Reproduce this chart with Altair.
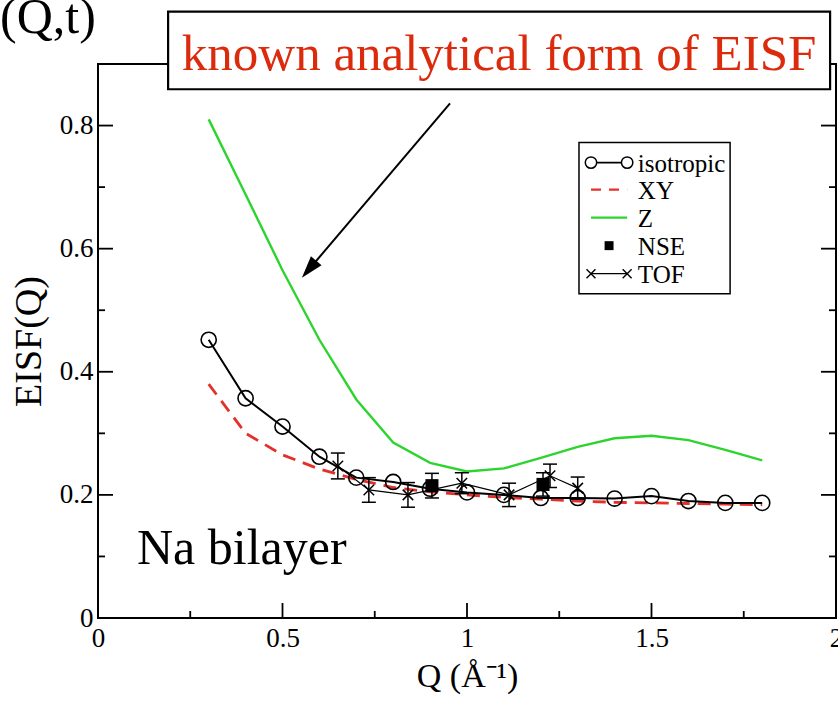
import altair as alt
import pandas as pd

# ---- data ---------------------------------------------------------------
q_iso = [0.3, 0.4, 0.5, 0.6, 0.7, 0.8, 0.9, 1.0, 1.1, 1.2, 1.3, 1.4, 1.5, 1.6, 1.7, 1.8]
eisf_iso = [0.452, 0.357, 0.311, 0.262, 0.228, 0.221, 0.210, 0.204,
            0.200, 0.195, 0.195, 0.194, 0.198, 0.190, 0.187, 0.187]
eisf_xy = [0.380, 0.300, 0.265, 0.242, 0.225, 0.212, 0.205, 0.200,
           0.196, 0.193, 0.190, 0.188, 0.187, 0.186, 0.185, 0.184]
eisf_z = [0.810, 0.688, 0.565, 0.452, 0.355, 0.285, 0.252, 0.238,
          0.243, 0.260, 0.278, 0.292, 0.296, 0.289, 0.273, 0.256]

q_tof = [0.65, 0.734, 0.84, 0.986, 1.114, 1.225, 1.30]
eisf_tof = [0.247, 0.208, 0.200, 0.219, 0.200, 0.231, 0.211]
err_tof = [0.021, 0.020, 0.020, 0.017, 0.019, 0.019, 0.018]

q_nse = [0.905, 1.206]
eisf_nse = [0.215, 0.217]
err_nse = [0.020, 0.019]

legend_labels = ["isotropic", "XY", "Z", "NSE", "TOF"]

x_major = [0, 0.5, 1, 1.5, 2]
x_minor = [0.25, 0.75, 1.25, 1.75]
y_major = [0, 0.2, 0.4, 0.6, 0.8]
y_minor = [0.1, 0.3, 0.5, 0.7]

# ---- layout constants (in axis units) ------------------------------------
W, H = 738, 554
SERIF = "Liberation Serif"
GREEN = "#2ed42e"
RED = "#e4302a"
NOTE_RED = "#dc2a0c"
MAJOR_LEN, MINOR_LEN = 15, 7

LEG_BOX = dict(q=1.3035, q2=1.713, v=0.5268, v2=0.7724)
LEG_ROWS = [0.7398, 0.6959, 0.6504, 0.6049, 0.5593]
LEG_SYM = (1.336, 1.434)
LEG_TEXT_Q = 1.463

NOTE_BOX = dict(q=0.19, q2=1.984, v=0.859, v2=0.985)
NOTE_TEXT = dict(q=1.087, v=0.891, label="known analytical form of EISF")
ARROW = dict(q=0.954, v=0.836, q2=0.572, v2=0.5665)
CORNER_TEXT = dict(q=-0.2656, v=0.951, label="(Q,t)")
PANEL_TEXT = dict(q=0.1057, v=0.0878, label="Na bilayer")

# ---- encodings ----------------------------------------------------------
xscale = alt.Scale(domain=[0, 2], nice=False, zero=False)
yscale = alt.Scale(domain=[0, 0.9], nice=False, zero=False)
xaxis = alt.Axis(values=x_major, format="~g", ticks=False, domain=False, grid=False,
                 labelFlush=False, labelPadding=7, titlePadding=8)
yaxis = alt.Axis(values=y_major, format="~g", ticks=False, domain=False, grid=False,
                 labelFlush=False, labelPadding=5, titlePadding=11)


def X(field="q"):
    return alt.X(f"{field}:Q", scale=xscale, axis=xaxis, title="Q (Å⁻¹)")


def Y(field="v"):
    return alt.Y(f"{field}:Q", scale=yscale, axis=yaxis, title="EISF(Q)")


# ---- frames -------------------------------------------------------------
curves = pd.DataFrame({"q": q_iso, "iso": eisf_iso, "xy": eisf_xy, "z": eisf_z})
tof = pd.DataFrame({"q": q_tof, "v": eisf_tof,
                    "lo": [v - e for v, e in zip(eisf_tof, err_tof)],
                    "hi": [v + e for v, e in zip(eisf_tof, err_tof)]})
nse = pd.DataFrame({"q": q_nse, "v": eisf_nse,
                    "lo": [v - e for v, e in zip(eisf_nse, err_nse)],
                    "hi": [v + e for v, e in zip(eisf_nse, err_nse)]})

layers = []

# model curves
layers.append(alt.Chart(curves).mark_line(color=GREEN, strokeWidth=2.4)
              .encode(x=X(), y=Y("z")))
layers.append(alt.Chart(curves).mark_line(color=RED, strokeWidth=2.8, strokeDash=[13, 8])
              .encode(x=X(), y=Y("xy")))
layers.append(alt.Chart(curves).mark_line(color="black", strokeWidth=2)
              .encode(x=X(), y=Y("iso")))
layers.append(alt.Chart(curves).mark_point(shape="circle", size=230, filled=False,
                                           color="black", strokeWidth=1.6, opacity=1)
              .encode(x=X(), y=Y("iso")))

# TOF data: line, error bars, crosses
layers.append(alt.Chart(tof).mark_line(color="black", strokeWidth=1.2)
              .encode(x=X(), y=Y()))
for df in (tof, nse):
    layers.append(alt.Chart(df).mark_rule(color="black", strokeWidth=1.5)
                  .encode(x=X(), y=Y("lo"), y2="hi:Q"))
    for end in ("lo", "hi"):
        layers.append(alt.Chart(df).mark_point(shape="stroke", size=196, color="black",
                                               strokeWidth=1.5, opacity=1)
                      .encode(x=X(), y=Y(end)))
layers.append(alt.Chart(tof).mark_point(shape="M-1,-1L1,1M-1,1L1,-1", size=110,
                                        filled=False, color="black", strokeWidth=1.5,
                                        opacity=1)
              .encode(x=X(), y=Y()))
# NSE data
layers.append(alt.Chart(nse).mark_point(shape="square", size=170, filled=True,
                                        color="black", opacity=1)
              .encode(x=X(), y=Y()))

# inward tick marks on all four sides
for vals, length in ((x_major, MAJOR_LEN), (x_minor, MINOR_LEN)):
    d = pd.DataFrame({"q": vals})
    layers.append(alt.Chart(d).mark_rule(color="black", strokeWidth=1.8)
                  .encode(x=X(), y=alt.value(H), y2=alt.value(H - length)))
    layers.append(alt.Chart(d).mark_rule(color="black", strokeWidth=1.8)
                  .encode(x=X(), y=alt.value(0), y2=alt.value(length)))
for vals, length in ((y_major, MAJOR_LEN), (y_minor, MINOR_LEN)):
    d = pd.DataFrame({"v": vals})
    layers.append(alt.Chart(d).mark_rule(color="black", strokeWidth=1.8)
                  .encode(y=Y(), x=alt.value(0), x2=alt.value(length)))
    layers.append(alt.Chart(d).mark_rule(color="black", strokeWidth=1.8)
                  .encode(y=Y(), x=alt.value(W), x2=alt.value(W - length)))

# legend
layers.append(alt.Chart(pd.DataFrame([LEG_BOX]))
              .mark_rect(fill="white", stroke="black", strokeWidth=1.5)
              .encode(x=X(), x2="q2:Q", y=Y(), y2="v2:Q"))
seg = pd.DataFrame({"q": [LEG_SYM[0]] * 5, "q2": [LEG_SYM[1]] * 5, "v": LEG_ROWS,
                    "label": legend_labels})
ends = pd.DataFrame({"q": list(LEG_SYM), "v": [LEG_ROWS[0]] * 2})
tof_ends = pd.DataFrame({"q": list(LEG_SYM), "v": [LEG_ROWS[4]] * 2})
mid = pd.DataFrame({"q": [sum(LEG_SYM) / 2], "v": [LEG_ROWS[3]]})
layers.append(alt.Chart(seg.iloc[[0]]).mark_rule(color="black", strokeWidth=1.6)
              .encode(x=X(), x2="q2:Q", y=Y()))
layers.append(alt.Chart(ends).mark_point(shape="circle", size=130, filled=True,
                                         fill="white", stroke="black", strokeWidth=1.5,
                                         opacity=1)
              .encode(x=X(), y=Y()))
layers.append(alt.Chart(seg.iloc[[1]]).mark_rule(color=RED, strokeWidth=2.4,
                                                 strokeDash=[10, 8])
              .encode(x=X(), x2="q2:Q", y=Y()))
layers.append(alt.Chart(seg.iloc[[2]]).mark_rule(color=GREEN, strokeWidth=2.4)
              .encode(x=X(), x2="q2:Q", y=Y()))
layers.append(alt.Chart(mid).mark_point(shape="square", size=80, filled=True,
                                        color="black", opacity=1)
              .encode(x=X(), y=Y()))
layers.append(alt.Chart(seg.iloc[[4]]).mark_rule(color="black", strokeWidth=1.2)
              .encode(x=X(), x2="q2:Q", y=Y()))
layers.append(alt.Chart(tof_ends).mark_point(shape="M-1,-1L1,1M-1,1L1,-1", size=80,
                                             filled=False, color="black",
                                             strokeWidth=1.4, opacity=1)
              .encode(x=X(), y=Y()))
layers.append(alt.Chart(seg.assign(q=LEG_TEXT_Q))
              .mark_text(font=SERIF, fontSize=25, align="left", baseline="middle",
                         color="black", dy=1)
              .encode(x=X(), y=Y(), text="label:N"))

# annotation: arrow pointing at the Z curve
layers.append(alt.Chart(pd.DataFrame([ARROW])).mark_rule(color="black", strokeWidth=2)
              .encode(x=X(), y=Y(), x2="q2:Q", y2="v2:Q"))
layers.append(alt.Chart(pd.DataFrame({"q": [ARROW["q2"]], "v": [ARROW["v2"]]}))
              .mark_point(shape="M0,-1L0.62,1L-0.62,1Z", size=500, filled=True,
                          color="black", angle=220, opacity=1)
              .encode(x=X(), y=Y()))
layers.append(alt.Chart(pd.DataFrame([NOTE_BOX]))
              .mark_rect(fill="white", stroke="black", strokeWidth=2.2)
              .encode(x=X(), x2="q2:Q", y=Y(), y2="v2:Q"))
layers.append(alt.Chart(pd.DataFrame([NOTE_TEXT]))
              .mark_text(font=SERIF, fontSize=51, align="center", baseline="alphabetic",
                         color=NOTE_RED)
              .encode(x=X(), y=Y(), text="label:N"))
layers.append(alt.Chart(pd.DataFrame([CORNER_TEXT]))
              .mark_text(font=SERIF, fontSize=50, align="left", baseline="alphabetic",
                         color="black")
              .encode(x=X(), y=Y(), text="label:N"))
layers.append(alt.Chart(pd.DataFrame([PANEL_TEXT]))
              .mark_text(font=SERIF, fontSize=50, align="left", baseline="alphabetic",
                         color="black")
              .encode(x=X(), y=Y(), text="label:N"))

chart = (
    alt.layer(*layers)
    .properties(width=W, height=H,
                padding={"left": 98, "top": 64, "right": 2, "bottom": 84},
                autosize=alt.AutoSizeParams(type="none"),
                background="white")
    .configure_view(stroke="black", strokeWidth=2)
    .configure_axis(labelFont=SERIF, labelFontSize=27, labelColor="black",
                    titleFont=SERIF, titleFontWeight="normal", titleColor="black")
    .configure_axisX(titleFontSize=34)
    .configure_axisY(titleFontSize=38)
)

chart.save("out.html", embed_options={"renderer": "svg", "actions": False})
